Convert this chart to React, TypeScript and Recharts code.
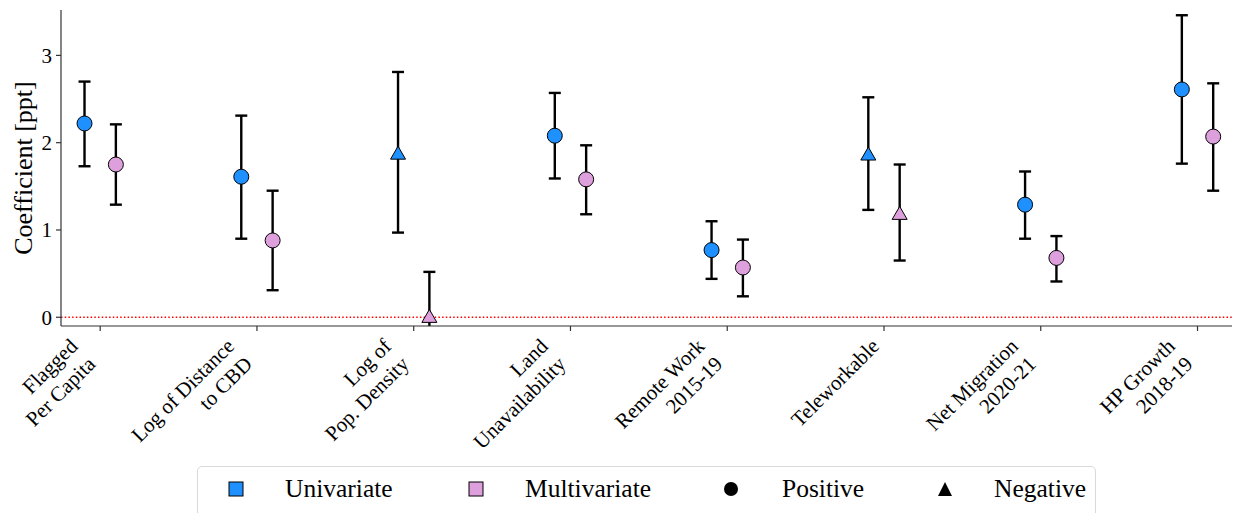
import React from 'react'
import {
  ScatterChart,
  Scatter,
  XAxis,
  YAxis,
  ErrorBar,
  ReferenceLine
} from 'recharts'

const categories = [
  'Flagged\nPer Capita',
  'Log of Distance\nto CBD',
  'Log of\nPop. Density',
  'Land\nUnavailability',
  'Remote Work\n2015-19',
  'Teleworkable',
  'Net Migration\n2020-21',
  'HP Growth\n2018-19'
]

// coefficient, lower and upper bound of the interval, and whether the estimate is negative
const uniCoef = [2.22, 1.61, 1.88, 2.08, 0.77, 1.87, 1.29, 2.61]
const uniLow = [1.73, 0.9, 0.97, 1.59, 0.44, 1.23, 0.9, 1.76]
const uniHigh = [2.7, 2.31, 2.81, 2.57, 1.1, 2.52, 1.67, 3.46]
const uniNeg = [false, false, true, false, false, true, false, false]

const multiCoef = [1.75, 0.88, 0.01, 1.58, 0.57, 1.19, 0.68, 2.07]
const multiLow = [1.29, 0.31, -0.5, 1.18, 0.24, 0.65, 0.41, 1.45]
const multiHigh = [2.21, 1.45, 0.52, 1.97, 0.89, 1.75, 0.93, 2.68]
const multiNeg = [false, false, true, false, false, true, false, false]

const yTicks = [0, 1, 2, 3]

const FONT = '"Liberation Serif", "DejaVu Serif", serif'
const BLUE = '#1E90FF'
const PINK = '#DDA0DD'

// plot box inside the svg, used to clip the interval lines
const PLOT = { x: 61, y: 10, w: 1171, h: 316 }

const buildRows = (coef: number[], low: number[], high: number[], neg: boolean[], shift: number) =>
  coef.map((y, i) => ({
    x: i + shift,
    y,
    err: [y - low[i], high[i] - y],
    neg: neg[i]
  }))

const uniRows = buildRows(uniCoef, uniLow, uniHigh, uniNeg, -0.1)
const multiRows = buildRows(multiCoef, multiLow, multiHigh, multiNeg, 0.1)

const Marker = (props: any) => {
  const { cx, cy, fill, payload } = props
  if (payload.neg) {
    return (
      <path
        d={`M${cx},${cy - 7} L${cx + 7.5},${cy + 6} L${cx - 7.5},${cy + 6} Z`}
        fill={fill}
        stroke="#000"
        strokeWidth={1}
      />
    )
  }
  return <circle cx={cx} cy={cy} r={7.5} fill={fill} stroke="#000" strokeWidth={1} />
}

const CategoryTick = (props: any) => {
  const { x, y, payload } = props
  const label = categories[payload.value]
  if (!label) return null
  const lines = label.split('\n')
  const fs = 21
  const lh = fs * 1.2
  const h = lh * (lines.length - 1) + fs * 1.15
  return (
    <g transform={`translate(${x},${y + 0.707 * h}) rotate(-45)`}>
      {lines.map((line: string, i: number) => (
        <text
          key={i}
          x={0}
          y={-fs * 0.24 - (lines.length - 1 - i) * lh}
          textAnchor="end"
          fontFamily={FONT}
          fontSize={fs}
          fill="#000"
        >
          {line}
        </text>
      ))}
    </g>
  )
}

const YTitle = (props: any) => {
  const { viewBox } = props
  const cy = viewBox.y + viewBox.height / 2
  return (
    <text
      transform={`translate(${viewBox.x + 32},${cy}) rotate(-90)`}
      textAnchor="middle"
      fontFamily={FONT}
      fontSize={26}
      fill="#000"
    >
      Coefficient [ppt]
    </text>
  )
}

// icon centre and text start for each legend entry
const legendItems = [
  { label: 'Univariate', kind: 'square', color: BLUE, at: 236, textAt: 285 },
  { label: 'Multivariate', kind: 'square', color: PINK, at: 476, textAt: 525 },
  { label: 'Positive', kind: 'circle', color: '#000', at: 731, textAt: 782 },
  { label: 'Negative', kind: 'triangle', color: '#000', at: 945, textAt: 994 }
]

const LegendIcon = ({ kind, color }: { kind: string, color: string }) => {
  const svgStyle = { display: 'block' }
  if (kind === 'square') {
    return (
      <svg width={16} height={16} style={svgStyle}>
        <rect x={1} y={1} width={14} height={14} fill={color} stroke="#000" strokeWidth={1} />
      </svg>
    )
  }
  if (kind === 'circle') {
    return (
      <svg width={16} height={16} style={svgStyle}>
        <circle cx={8} cy={8} r={7} fill={color} />
      </svg>
    )
  }
  return (
    <svg width={16} height={16} style={svgStyle}>
      <path d="M8,1 L15,15 L1,15 Z" fill={color} />
    </svg>
  )
}

const LEGEND_LEFT = 197

export default function App () {
  return (
    <div style={{ position: 'absolute', left: 0, top: 0, width: 1233, height: 513, background: '#fff', overflow: 'hidden' }}>
      <style>{'.recharts-errorBars, .recharts-errorBar { clip-path: url(#plot-clip); }'}</style>
      <svg width={0} height={0} style={{ position: 'absolute' }}>
        <defs>
          <clipPath id="plot-clip" clipPathUnits="userSpaceOnUse">
            <rect x={PLOT.x} y={0} width={PLOT.w} height={PLOT.y + PLOT.h} />
          </clipPath>
        </defs>
      </svg>
      <ScatterChart width={1233} height={513} margin={{ top: 10, right: 1, bottom: 57, left: 0 }}>
        <XAxis
          type="number"
          dataKey="x"
          domain={[-0.25, 7.22]}
          ticks={[0, 1, 2, 3, 4, 5, 6, 7]}
          allowDataOverflow
          height={130}
          tickSize={5}
          tickMargin={3}
          interval={0}
          tick={<CategoryTick />}
          axisLine={{ stroke: '#333', strokeWidth: 1.2 }}
          tickLine={{ stroke: '#333', strokeWidth: 1.2 }}
        />
        <YAxis
          type="number"
          dataKey="y"
          domain={[-0.1, 3.52]}
          ticks={yTicks}
          allowDataOverflow
          width={61}
          tickSize={5}
          tickMargin={4}
          tick={{ fontFamily: FONT, fontSize: 21, fill: '#000' }}
          axisLine={{ stroke: '#333', strokeWidth: 1.2 }}
          tickLine={{ stroke: '#333', strokeWidth: 1.2 }}
          label={<YTitle />}
        />
        <ReferenceLine y={0} stroke="#ff0000" strokeWidth={1.5} strokeDasharray="1.5 2.2" />
        <Scatter name="Univariate" data={uniRows} fill={BLUE} shape={<Marker />} isAnimationActive={false}>
          <ErrorBar dataKey="err" direction="y" width={6} stroke="#000" strokeWidth={2.4} isAnimationActive={false} />
        </Scatter>
        <Scatter name="Multivariate" data={multiRows} fill={PINK} shape={<Marker />} isAnimationActive={false}>
          <ErrorBar dataKey="err" direction="y" width={6} stroke="#000" strokeWidth={2.4} isAnimationActive={false} />
        </Scatter>
      </ScatterChart>
      <div
        style={{
          position: 'absolute',
          left: LEGEND_LEFT,
          top: 466,
          width: 899,
          height: 60,
          border: '1px solid #d9d9d9',
          borderRadius: 5,
          boxSizing: 'border-box',
          fontFamily: FONT,
          fontSize: 25.5,
          color: '#000'
        }}
      >
        {legendItems.map((item) => (
          <React.Fragment key={item.label}>
            <div style={{ position: 'absolute', left: item.at - LEGEND_LEFT - 9, top: 14, width: 16, height: 16 }}>
              <LegendIcon kind={item.kind} color={item.color} />
            </div>
            <span style={{ position: 'absolute', left: item.textAt - LEGEND_LEFT - 1, top: 6, lineHeight: '32px', whiteSpace: 'nowrap' }}>
              {item.label}
            </span>
          </React.Fragment>
        ))}
      </div>
    </div>
  )
}
